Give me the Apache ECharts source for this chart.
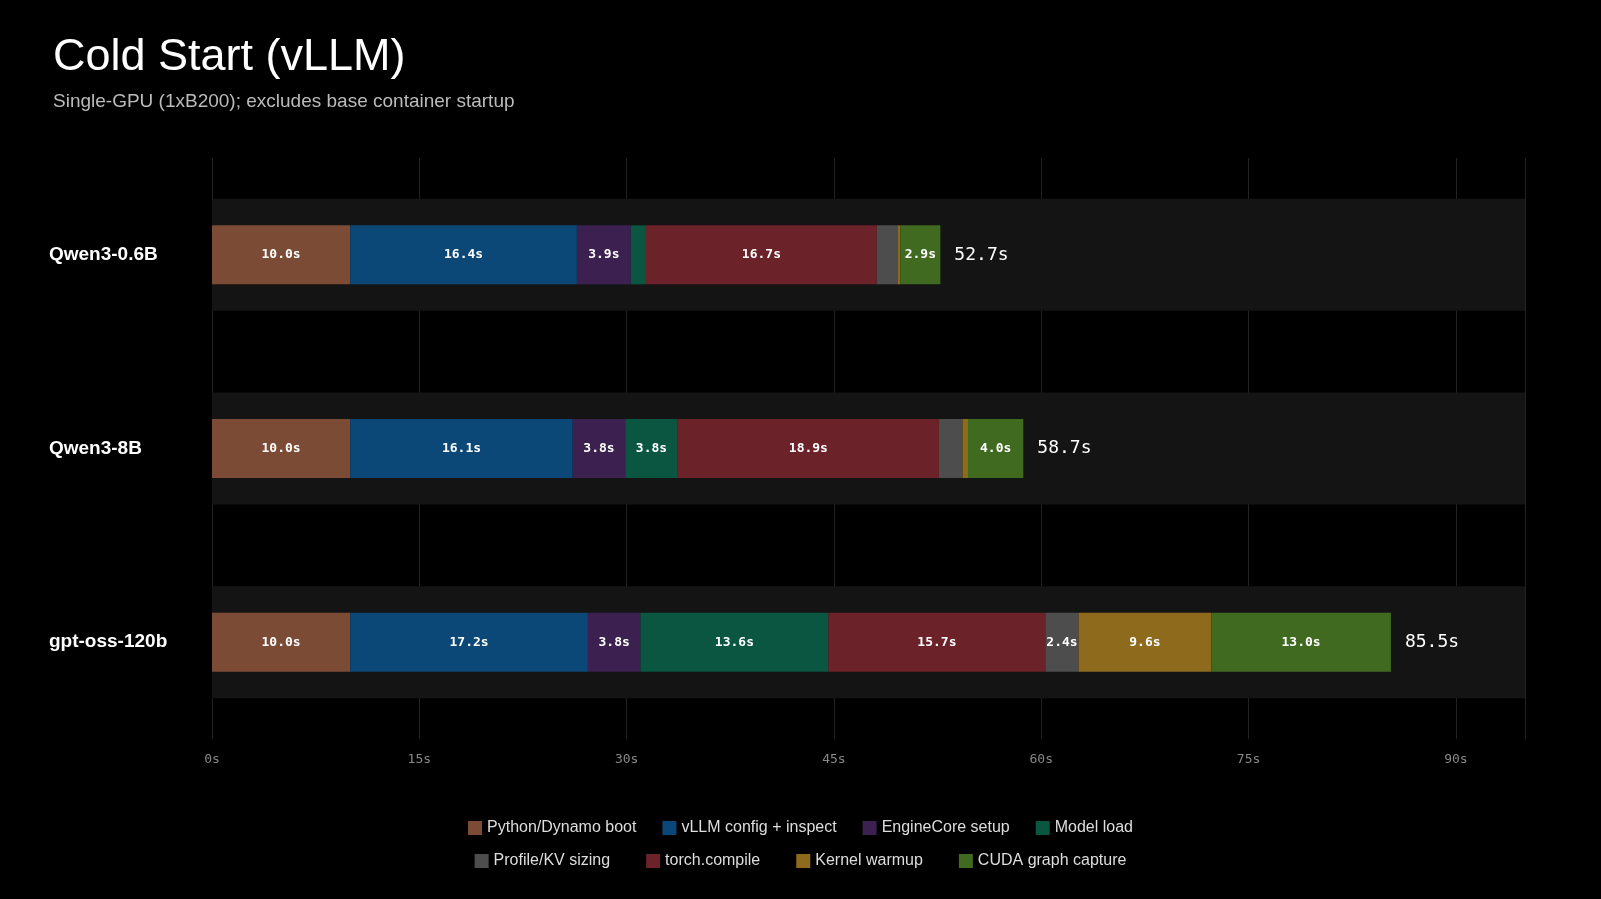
<!DOCTYPE html>
<html><head><meta charset="utf-8">
<script src="https://cdn.jsdelivr.net/npm/echarts@6/dist/echarts.min.js"></script>
<style>html,body{margin:0;background:#000;}#c{width:1601px;height:899px;}</style>
</head><body><div id="c"></div>
<script>
const models = ['Qwen3-0.6B','Qwen3-8B','gpt-oss-120b'];
const phases = ['Python/Dynamo boot','vLLM config + inspect','EngineCore setup','Model load','Profile/KV sizing','torch.compile','Kernel warmup','CUDA graph capture'];
const colors = ['#7b4b36','#0b4777','#3b2050','#0a5640','#4d4d4d','#6b2228','#8e6a1c','#3f6a1f'];
const pythonBoot = [10.0,10.0,10.0];
const vllmConfig = [16.4,16.1,17.2];
const engineCore = [3.9,3.8,3.8];
const modelLoad = [1.1,3.8,13.6];
const profileKv = [1.5,1.7,2.4];
const torchCompile = [16.7,18.9,15.7];
const kernelWarmup = [0.2,0.4,9.6];
const cudaGraph = [2.9,4.0,13.0];
const totals = [52.7,58.7,85.5];
const xTicks = ['0s','15s','30s','45s','60s','75s','90s'];

const values = [pythonBoot,vllmConfig,engineCore,modelLoad,profileKv,torchCompile,kernelWarmup,cudaGraph];
const stackOrder = [0,1,2,3,5,4,6,7];
const mono = 'DejaVu Sans Mono';
const series = [{
  type:'bar', yAxisIndex:1, data:models.map(()=>95), barWidth:112, silent:true,
  itemStyle:{color:'#141414'}, z:1, name:'_bg'
}];
stackOrder.forEach(i=>{
  series.push({
    name:phases[i], type:'bar', stack:'t', barWidth:59, z:3,
    itemStyle:{color:colors[i]},
    data:values[i],
    label:{show:true, position:'inside', color:'#fff', fontFamily:mono, fontSize:13, fontWeight:'bold',
      formatter:d=> d.value>=2 ? d.value.toFixed(1)+'s' : ''}
  });
});
series.push({
  name:'_total', type:'bar', stack:'t', barWidth:59, z:3, data:models.map(()=>0),
  label:{show:true, position:'right', distance:14, color:'#fff', fontFamily:mono, fontSize:18,
    formatter:d=>totals[d.dataIndex].toFixed(1)+'s'}
});
const legendText = {color:'#ddd', fontSize:16, fontFamily:'Liberation Sans'};
const chart = echarts.init(document.getElementById('c'));
chart.setOption({
  backgroundColor:'#000',
  animation:false,
  title:{text:'Cold Start (vLLM)', subtext:'Single-GPU (1xB200); excludes base container startup', left:48, top:30,
    textStyle:{color:'#fff', fontSize:45, fontWeight:'normal', fontFamily:'Liberation Sans'},
    subtextStyle:{color:'#bbb', fontSize:19, fontFamily:'Liberation Sans'}, itemGap:12},
  grid:{left:212, right:76, top:158, bottom:160},
  xAxis:{type:'value', min:0, max:95, interval:15,
    axisLine:{show:false}, axisTick:{show:false},
    splitLine:{lineStyle:{color:'#222'}},
    axisLabel:{color:'#888', fontFamily:mono, fontSize:13, margin:14, formatter:(v)=>{const i=v/15; return Number.isInteger(i)&&xTicks[i]?xTicks[i]:'';}}},
  yAxis:[
    {type:'category', data:models, inverse:true, axisLine:{show:false}, axisTick:{show:false},
     axisLabel:{color:'#fff', fontSize:19, fontWeight:'bold', fontFamily:'Liberation Sans', align:'left', margin:163}},
    {type:'category', data:models, inverse:true, show:false}
  ],
  legend:[
    {data:phases.slice(0,4), top:815, left:'center', itemWidth:14, itemHeight:14, itemGap:26, icon:'rect', textStyle:legendText},
    {data:phases.slice(4), top:848, left:'center', itemWidth:14, itemHeight:14, itemGap:36, icon:'rect', textStyle:legendText}
  ],
  series
});
</script></body></html>
